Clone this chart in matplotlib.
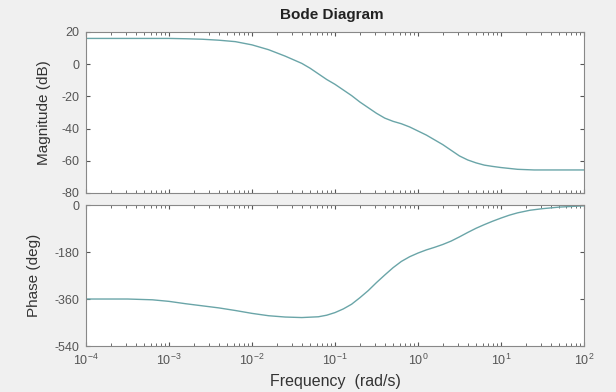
import matplotlib
matplotlib.use("Agg")
import matplotlib.pyplot as plt
import numpy as np

plt.rcParams['font.family'] = ['Liberation Sans', 'DejaVu Sans']
plt.rcParams['axes.unicode_minus'] = False

# values (log10 of frequency in rad/s)
mag_logw = [-4, -3.5, -3, -2.8, -2.6, -2.4, -2.2, -2.0, -1.8, -1.6, -1.4, -1.3, -1.2,
            -1.1, -1.0, -0.9, -0.8, -0.7, -0.6, -0.5, -0.4, -0.3, -0.2, -0.1, 0,
            0.1, 0.2, 0.3, 0.4, 0.5, 0.6, 0.7, 0.8, 0.9, 1.0, 1.2, 1.4, 2]
mag_db = [16, 16, 16, 15.8, 15.5, 14.9, 14, 12, 9, 5, 0.5, -2.5, -6,
          -9.5, -12.5, -16, -19.5, -23.5, -27, -30.5, -33.5, -35.5, -37, -39, -41.5,
          -44, -47, -50, -53.5, -57, -59.5, -61.3, -62.7, -63.5, -64.2, -65.3, -65.7, -65.7]

phase_logw = [-4, -3.5, -3.2, -3.0, -2.8, -2.6, -2.4, -2.2, -2.0, -1.8, -1.6, -1.4, -1.2,
              -1.1, -1.0, -0.9, -0.8, -0.7, -0.6, -0.5, -0.4, -0.3, -0.2, -0.1, 0,
              0.1, 0.2, 0.3, 0.4, 0.5, 0.6, 0.7, 0.8, 0.9, 1.0, 1.1, 1.2, 1.35, 1.5,
              1.7, 2]
phase_deg = [-360, -360, -363, -369, -378, -386, -394, -404, -415, -424, -429, -431, -428,
             -422, -412, -398, -380, -355, -328, -297, -268, -240, -216, -198, -184,
             -172, -162, -151, -138, -122, -105, -89, -75, -62, -50, -39, -30, -20, -14,
             -8, -3]

mag_ticks = [20, 0, -20, -40, -60, -80]
phase_ticks = [0, -180, -360, -540]

line_color = '#6aa5a8'
gray = '#555555'

fig = plt.figure(figsize=(6.16, 3.92), dpi=100, facecolor='#f0f0f0')
ax1 = fig.add_axes([0.1396, 0.5077, 0.8084, 0.4107])
ax2 = fig.add_axes([0.1396, 0.1173, 0.8084, 0.3597])

ax1.plot(10.0 ** np.array(mag_logw), mag_db, color=line_color, lw=1.0)
ax2.plot(10.0 ** np.array(phase_logw), phase_deg, color=line_color, lw=1.0)

for ax in (ax1, ax2):
    ax.set_xscale('log')
    ax.set_xlim(1e-4, 1e2)
    ax.tick_params(which='both', direction='in', top=True, right=True,
                   labelsize=9, colors=gray, length=3, pad=5)
    ax.tick_params(which='minor', length=2)
    for s in ax.spines.values():
        s.set_color('#888888')
        s.set_linewidth(0.8)

ax1.set_ylim(-80, 20)
ax1.set_yticks(mag_ticks)
ax1.tick_params(labelbottom=False)
ax1.set_ylabel('Magnitude (dB)', fontsize=11, color='#333333')

ax2.set_ylim(-540, 0)
ax2.set_yticks(phase_ticks)
ax2.set_xticks([1e-4, 1e-3, 1e-2, 1e-1, 1e0, 1e1, 1e2])
ax2.set_ylabel('Phase (deg)', fontsize=11, color='#333333')
ax2.set_xlabel('Frequency  (rad/s)', fontsize=11.5, color='#333333', labelpad=4)

fig.text(0.539, 0.962, 'Bode Diagram', ha='center', va='center',
         fontsize=11, fontweight='bold', color='#222222')
ax1.yaxis.set_label_coords(-0.07, 0.5)
ax2.yaxis.set_label_coords(-0.09, 0.5)

fig.savefig('out.png', dpi=100, facecolor=fig.get_facecolor())
